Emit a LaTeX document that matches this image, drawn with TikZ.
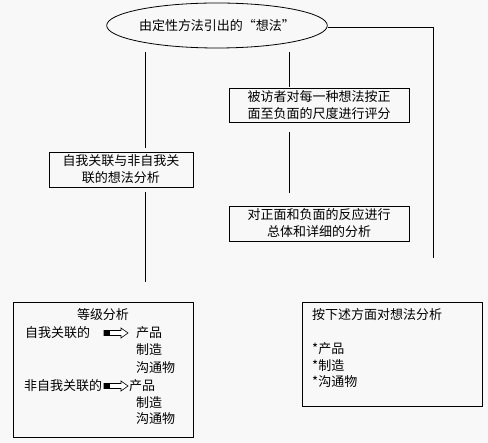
\documentclass[tikz,border=0pt]{standalone}
\usepackage{fontspec}
\setmainfont{Noto Sans CJK SC}
\usetikzlibrary{shapes.geometric}
\definecolor{bgc}{RGB}{248,248,248}
\begin{document}
\begin{tikzpicture}[x=1pt,y=-1pt,
  font=\fontsize{13}{17}\selectfont,
  box/.style={draw, line width=0.8pt, inner sep=0pt, align=center},
  conn/.style={line width=0.8pt},
  txt/.style={anchor=west, inner sep=0pt},
  blockarrow/.style={draw, line width=0.6pt, fill=white}]
\fill[bgc] (0,0) rectangle (488,443);
\useasboundingbox (0,0) rectangle (488,443);

% nodes
\node (ell) [draw, line width=0.8pt, ellipse, minimum width=218pt, minimum height=45pt, inner sep=0pt] at (217,25.5) {由定性方法引出的“想法”};
\node (b1) [box, minimum width=144pt, minimum height=35pt] at (121,169.5) {自我关联与非自我关\\联的想法分析};
\node (b2) [box, minimum width=180pt, minimum height=34pt] at (319,105) {被访者对每一种想法按正\\面至负面的尺度进行评分};
\node (b3) [box, minimum width=180pt, minimum height=35pt] at (319,223.5) {对正面和负面的反应进行\\总体和详细的分析};
\node (b4) [box, minimum width=180pt, minimum height=135pt] at (103,369.5) {};
\node (b5) [box, minimum width=180pt, minimum height=104pt] at (392,354) {};

% free ends of connectors
\coordinate (l1a) at (145,52);
\coordinate (l1b) at (145,148);
\coordinate (l2a) at (145,192);
\coordinate (l2b) at (145,282);
\coordinate (m1a) at (289,52);
\coordinate (m1b) at (289,87);
\coordinate (m2a) at (289,132);
\coordinate (m2b) at (289,193);
\coordinate (r1) at (433,27);
\coordinate (r2) at (433,258);

\draw[conn] (l1a) -- (l1b);
\draw[conn] (l2a) -- (l2b);
\draw[conn] (m1a) -- (m1b);
\draw[conn] (m2a) -- (m2b);
\draw[conn] (ell.east |- r1) -- (r1) -- (r2);

% bottom-left box content
\node (t0) [inner sep=0pt] at (103,315) {等级分析};
\node (t1) [txt] at (25,333) {自我关联的};
\node (t2) [txt] at (136,333) {产品};
\node (t3) [txt] at (136,350) {制造};
\node (t4) [txt] at (136,368) {沟通物};
\node (t5) [txt] at (24,386) {非自我关联的};
\node (t6) [txt] at (129,386) {产品};
\node (t7) [txt] at (136,403) {制造};
\node (t8) [txt] at (136,419) {沟通物};

\draw[blockarrow] (104,330.5) -- (121,330.5) -- (121,328) -- (128,333) -- (121,338) -- (121,335.5) -- (104,335.5) -- cycle;
\fill (104,330.5) rectangle (110,335.5);
\draw[blockarrow] (104,383.5) -- (121,383.5) -- (121,381) -- (128,386) -- (121,391) -- (121,388.5) -- (104,388.5) -- cycle;
\fill (104,383.5) rectangle (110,388.5);

% bottom-right box content
\node (s0) [txt] at (312,315) {按下述方面对想法分析};
\node (s1) [txt] at (312,349) {*产品};
\node (s2) [txt] at (312,366) {*制造};
\node (s3) [txt] at (312,382) {*沟通物};
\end{tikzpicture}
\end{document}
